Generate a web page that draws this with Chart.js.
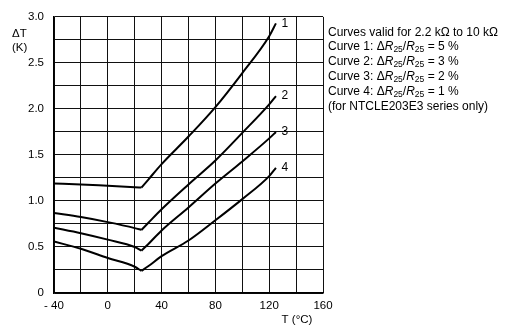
<!DOCTYPE html>
<html lang="en">
<head>
  <meta charset="UTF-8" />
  <title>Delta T vs T</title>
  <script src="https://cdn.jsdelivr.net/npm/chart.js"></script>
  <style>
    body {
      margin: 0;
      background: #fff;
    }
    .wrap {
      position: relative;
      width: 509px;
      height: 326px;
    }
    .note {
      position: absolute;
      left: 328px;
      top: 25px;
      font-family: "Liberation Sans", Arial, sans-serif;
      font-size: 12px;
      line-height: 14px;
      color: #000;
      white-space: nowrap;
    }
    .note i { font-style: italic; }
    .note .s {
      font-size: 8.5px;
      position: relative;
      top: 2px;
    }
  </style>
</head>
<body>
  <div class="wrap">
    <canvas id="chart" width="509" height="326"></canvas>
    <div class="note">
      Curves valid for 2.2 kΩ to 10 kΩ<br>
      Curve 1: Δ<i>R</i><span class="s">25</span>/<i>R</i><span class="s">25</span> = 5 %<br>
      Curve 2: Δ<i>R</i><span class="s">25</span>/<i>R</i><span class="s">25</span> = 3 %<br>
      Curve 3: Δ<i>R</i><span class="s">25</span>/<i>R</i><span class="s">25</span> = 2 %<br>
      Curve 4: Δ<i>R</i><span class="s">25</span>/<i>R</i><span class="s">25</span> = 1 %<br>
      (for NTCLE203E3 series only)
    </div>
  </div>

  <script>
    // temperatures (°C): below and above the 25 °C reference point
    const tLeft = [-40, -20, 0, 20, 25];
    const tRight = [25, 30, 40, 60, 80, 100, 120, 125];

    // delta T (K) per curve
    const curve1Left = [1.19, 1.18, 1.165, 1.15, 1.145];
    const curve1Right = [1.145, 1.23, 1.40, 1.70, 2.02, 2.39, 2.79, 2.93];
    const curve2Left = [0.87, 0.825, 0.77, 0.705, 0.685];
    const curve2Right = [0.685, 0.76, 0.91, 1.18, 1.44, 1.74, 2.05, 2.14];
    const curve3Left = [0.71, 0.65, 0.58, 0.50, 0.46];
    const curve3Right = [0.46, 0.53, 0.68, 0.93, 1.19, 1.43, 1.68, 1.75];
    const curve4Left = [0.56, 0.48, 0.38, 0.285, 0.24];
    const curve4Right = [0.24, 0.29, 0.40, 0.57, 0.79, 1.02, 1.27, 1.36];

    const curveNames = ['1', '2', '3', '4'];
    const xTickLabels = { '-40': '- 40', '0': '0', '40': '40', '80': '80', '120': '120', '160': '160' };
    const yTickLabels = { '0': '0', '0.5': '0.5', '1': '1.0', '1.5': '1.5', '2': '2.0', '2.5': '2.5', '3': '3.0' };

    const FONT = '"Liberation Sans", Arial, sans-serif';

    const curves = [
      [curve1Left, curve1Right],
      [curve2Left, curve2Right],
      [curve3Left, curve3Right],
      [curve4Left, curve4Right]
    ];

    function pts(xs, ys) {
      return xs.map((x, i) => ({ x: x, y: ys[i] }));
    }

    const datasets = [];
    curves.forEach((c, i) => {
      datasets.push({ label: 'Curve ' + curveNames[i] + ' a', data: pts(tLeft, c[0]) });
      datasets.push({ label: 'Curve ' + curveNames[i] + ' b', data: pts(tRight, c[1]) });
    });
    datasets.forEach(d => {
      d.borderColor = '#000';
      d.borderWidth = 2;
      d.pointRadius = 0;
      d.fill = false;
      d.cubicInterpolationMode = 'monotone';
    });

    // curve numbers and axis captions
    const textPlugin = {
      id: 'texts',
      afterDatasetsDraw(chart) {
        const ctx = chart.ctx;
        const xs = chart.scales.x;
        const ys = chart.scales.y;
        ctx.save();
        ctx.fillStyle = '#000';
        ctx.font = '12px ' + FONT;
        ctx.textAlign = 'center';
        ctx.textBaseline = 'middle';
        curves.forEach((c, i) => {
          const r = c[1];
          const px = xs.getPixelForValue(tRight[tRight.length - 1]) + 9;
          const py = ys.getPixelForValue(r[r.length - 1]);
          ctx.fillText(curveNames[i], px, py);
        });
        ctx.font = '11.5px ' + FONT;
        ctx.textAlign = 'left';
        ctx.fillText('ΔT', 12, 34);
        ctx.fillText('(K)', 12, 48);
        ctx.textAlign = 'center';
        ctx.fillText('T (°C)', 297, 320);
        ctx.restore();
      }
    };

    new Chart(document.getElementById('chart'), {
      type: 'line',
      data: { datasets: datasets },
      options: {
        responsive: false,
        animation: false,
        layout: { padding: { left: 0, top: 16, right: 186, bottom: 0 } },
        plugins: {
          legend: { display: false },
          tooltip: { enabled: false }
        },
        scales: {
          x: {
            type: 'linear',
            min: -40,
            max: 160,
            afterFit(scale) { scale.height = 33; },
            grid: { color: '#111', lineWidth: 1, drawTicks: false },
            border: { color: '#000', width: 1.5 },
            ticks: {
              stepSize: 20,
              autoSkip: false,
              maxRotation: 0,
              padding: 6,
              color: '#000',
              font: { family: FONT, size: 11.5 },
              callback: v => xTickLabels[String(v)] || ''
            }
          },
          y: {
            min: 0,
            max: 3,
            afterFit(scale) { scale.width = 54; },
            grid: { color: '#111', lineWidth: 1, drawTicks: false },
            border: { color: '#000', width: 1.5 },
            ticks: {
              stepSize: 0.25,
              autoSkip: false,
              padding: 10,
              color: '#000',
              font: { family: FONT, size: 11.5 },
              callback: v => yTickLabels[String(v)] || ''
            }
          }
        }
      },
      plugins: [textPlugin]
    });
  </script>
</body>
</html>
